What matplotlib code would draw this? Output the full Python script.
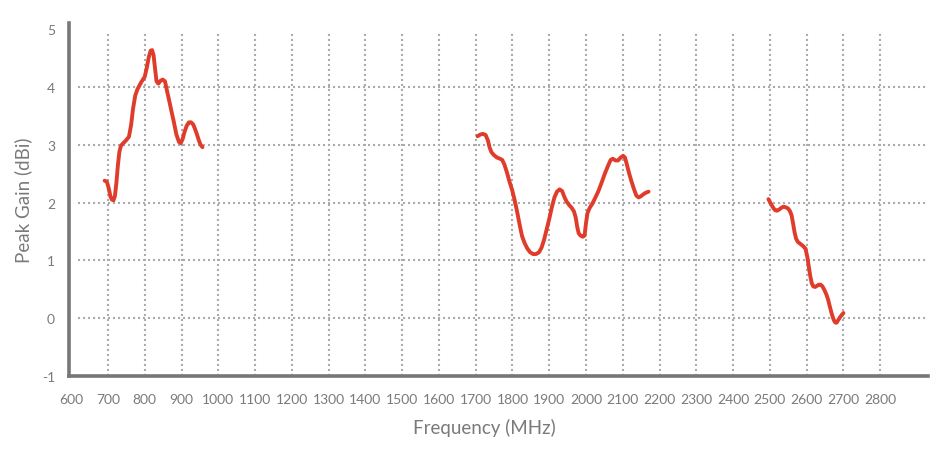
import matplotlib
matplotlib.use("Agg")
import matplotlib.pyplot as plt

# ---- data ----
freq_low = [691, 697, 702, 707, 711, 715, 719, 723, 727, 731, 735, 740, 748, 757, 763, 768, 774, 780, 790, 800, 806, 811, 816, 820, 824, 828, 832, 837, 843, 849, 855, 860, 866, 872, 879, 886, 893, 898, 903, 908, 914, 920, 926, 932, 937, 942, 947, 952, 957]
gain_low = [2.38, 2.36, 2.25, 2.10, 2.05, 2.04, 2.12, 2.35, 2.65, 2.88, 2.98, 3.02, 3.07, 3.14, 3.35, 3.62, 3.85, 3.96, 4.08, 4.18, 4.35, 4.52, 4.63, 4.64, 4.55, 4.32, 4.10, 4.06, 4.11, 4.13, 4.10, 3.95, 3.78, 3.60, 3.40, 3.18, 3.05, 3.03, 3.10, 3.22, 3.33, 3.39, 3.39, 3.35, 3.27, 3.18, 3.08, 3.00, 2.96]

freq_mid = [1705, 1713, 1720, 1727, 1733, 1738, 1743, 1750, 1758, 1766, 1772, 1778, 1785, 1792, 1799, 1806, 1813, 1820, 1826, 1833, 1840, 1848, 1856, 1864, 1872, 1879, 1886, 1893, 1900, 1907, 1914, 1921, 1928, 1935, 1941, 1947, 1954, 1961, 1967, 1972, 1976, 1980, 1985, 1991, 1996, 2000, 2004, 2010, 2017, 2024, 2033, 2042, 2051, 2060, 2067, 2073, 2080, 2087, 2094, 2101, 2106, 2111, 2117, 2123, 2130, 2137, 2143, 2149, 2155, 2162, 2170]
gain_mid = [3.15, 3.18, 3.19, 3.17, 3.08, 2.95, 2.87, 2.82, 2.78, 2.76, 2.74, 2.66, 2.52, 2.36, 2.22, 2.04, 1.83, 1.60, 1.42, 1.30, 1.21, 1.14, 1.11, 1.11, 1.14, 1.22, 1.36, 1.54, 1.72, 1.92, 2.09, 2.19, 2.23, 2.20, 2.10, 2.02, 1.96, 1.91, 1.85, 1.74, 1.58, 1.47, 1.43, 1.41, 1.43, 1.65, 1.82, 1.91, 1.98, 2.07, 2.19, 2.34, 2.50, 2.64, 2.74, 2.76, 2.73, 2.73, 2.78, 2.81, 2.78, 2.66, 2.51, 2.38, 2.24, 2.12, 2.09, 2.11, 2.14, 2.17, 2.19]

freq_high = [2496, 2502, 2508, 2514, 2519, 2525, 2531, 2537, 2543, 2549, 2554, 2559, 2563, 2567, 2571, 2576, 2582, 2590, 2597, 2602, 2606, 2610, 2614, 2618, 2623, 2628, 2633, 2638, 2643, 2648, 2653, 2658, 2663, 2668, 2673, 2677, 2681, 2686, 2691, 2696, 2700]
gain_high = [2.06, 1.99, 1.92, 1.87, 1.86, 1.88, 1.91, 1.93, 1.92, 1.90, 1.86, 1.78, 1.64, 1.49, 1.38, 1.32, 1.29, 1.25, 1.20, 1.05, 0.88, 0.72, 0.60, 0.55, 0.54, 0.56, 0.58, 0.58, 0.55, 0.49, 0.42, 0.33, 0.20, 0.08, -0.02, -0.07, -0.08, -0.03, 0.02, 0.06, 0.09]

x_ticks = list(range(600, 2900, 100))
y_ticks = [-1, 0, 1, 2, 3, 4, 5]

# ---- style ----
RED = "#e03c2c"
GRID = "#ababab"
TEXT = "#7a7a7a"
SPINE = "#777777"
FONT = ["Lato", "DejaVu Sans"]

plt.rcParams["font.family"] = FONT

fig = plt.figure(figsize=(9.53, 4.52), dpi=100)
ax = fig.add_axes([0.0724, 0.166, 0.9014, 0.781])

ax.set_xlim(594, 2930)
ax.set_ylim(-1, 5.11)

# grid
for xv in x_ticks[1:]:
    ax.plot([xv, xv], [-1, 4.95], color=GRID, lw=1.5, ls=(0, (1, 1.4)), zorder=1)
for yv in y_ticks[1:-1]:
    ax.plot([618, 2925], [yv, yv], color=GRID, lw=1.5, ls=(0, (1, 1.4)), zorder=1)

for fx, gy in [(freq_low, gain_low), (freq_mid, gain_mid), (freq_high, gain_high)]:
    ax.plot(fx, gy, color=RED, lw=2.8, solid_joinstyle="round", solid_capstyle="round", zorder=3)

for s in ["top", "right"]:
    ax.spines[s].set_visible(False)
for s in ["left", "bottom"]:
    ax.spines[s].set_color(SPINE)
    ax.spines[s].set_linewidth(2.6)

ax.set_xticks(x_ticks)
ax.set_xticklabels([str(v) for v in x_ticks])
ax.set_yticks(y_ticks)
ax.set_yticklabels([str(v) for v in y_ticks])
ax.tick_params(axis="both", length=0, colors=TEXT, labelsize=10)
ax.tick_params(axis="x", pad=12)
ax.tick_params(axis="y", pad=10)

ax.set_xlabel("Frequency (MHz)", color=TEXT, fontsize=13.5, labelpad=7)
ax.set_ylabel("Peak Gain (dBi)", color=TEXT, fontsize=13.5, labelpad=7)
ax.xaxis.set_label_coords(0.484, -0.118)

fig.savefig("out.png", dpi=100)
